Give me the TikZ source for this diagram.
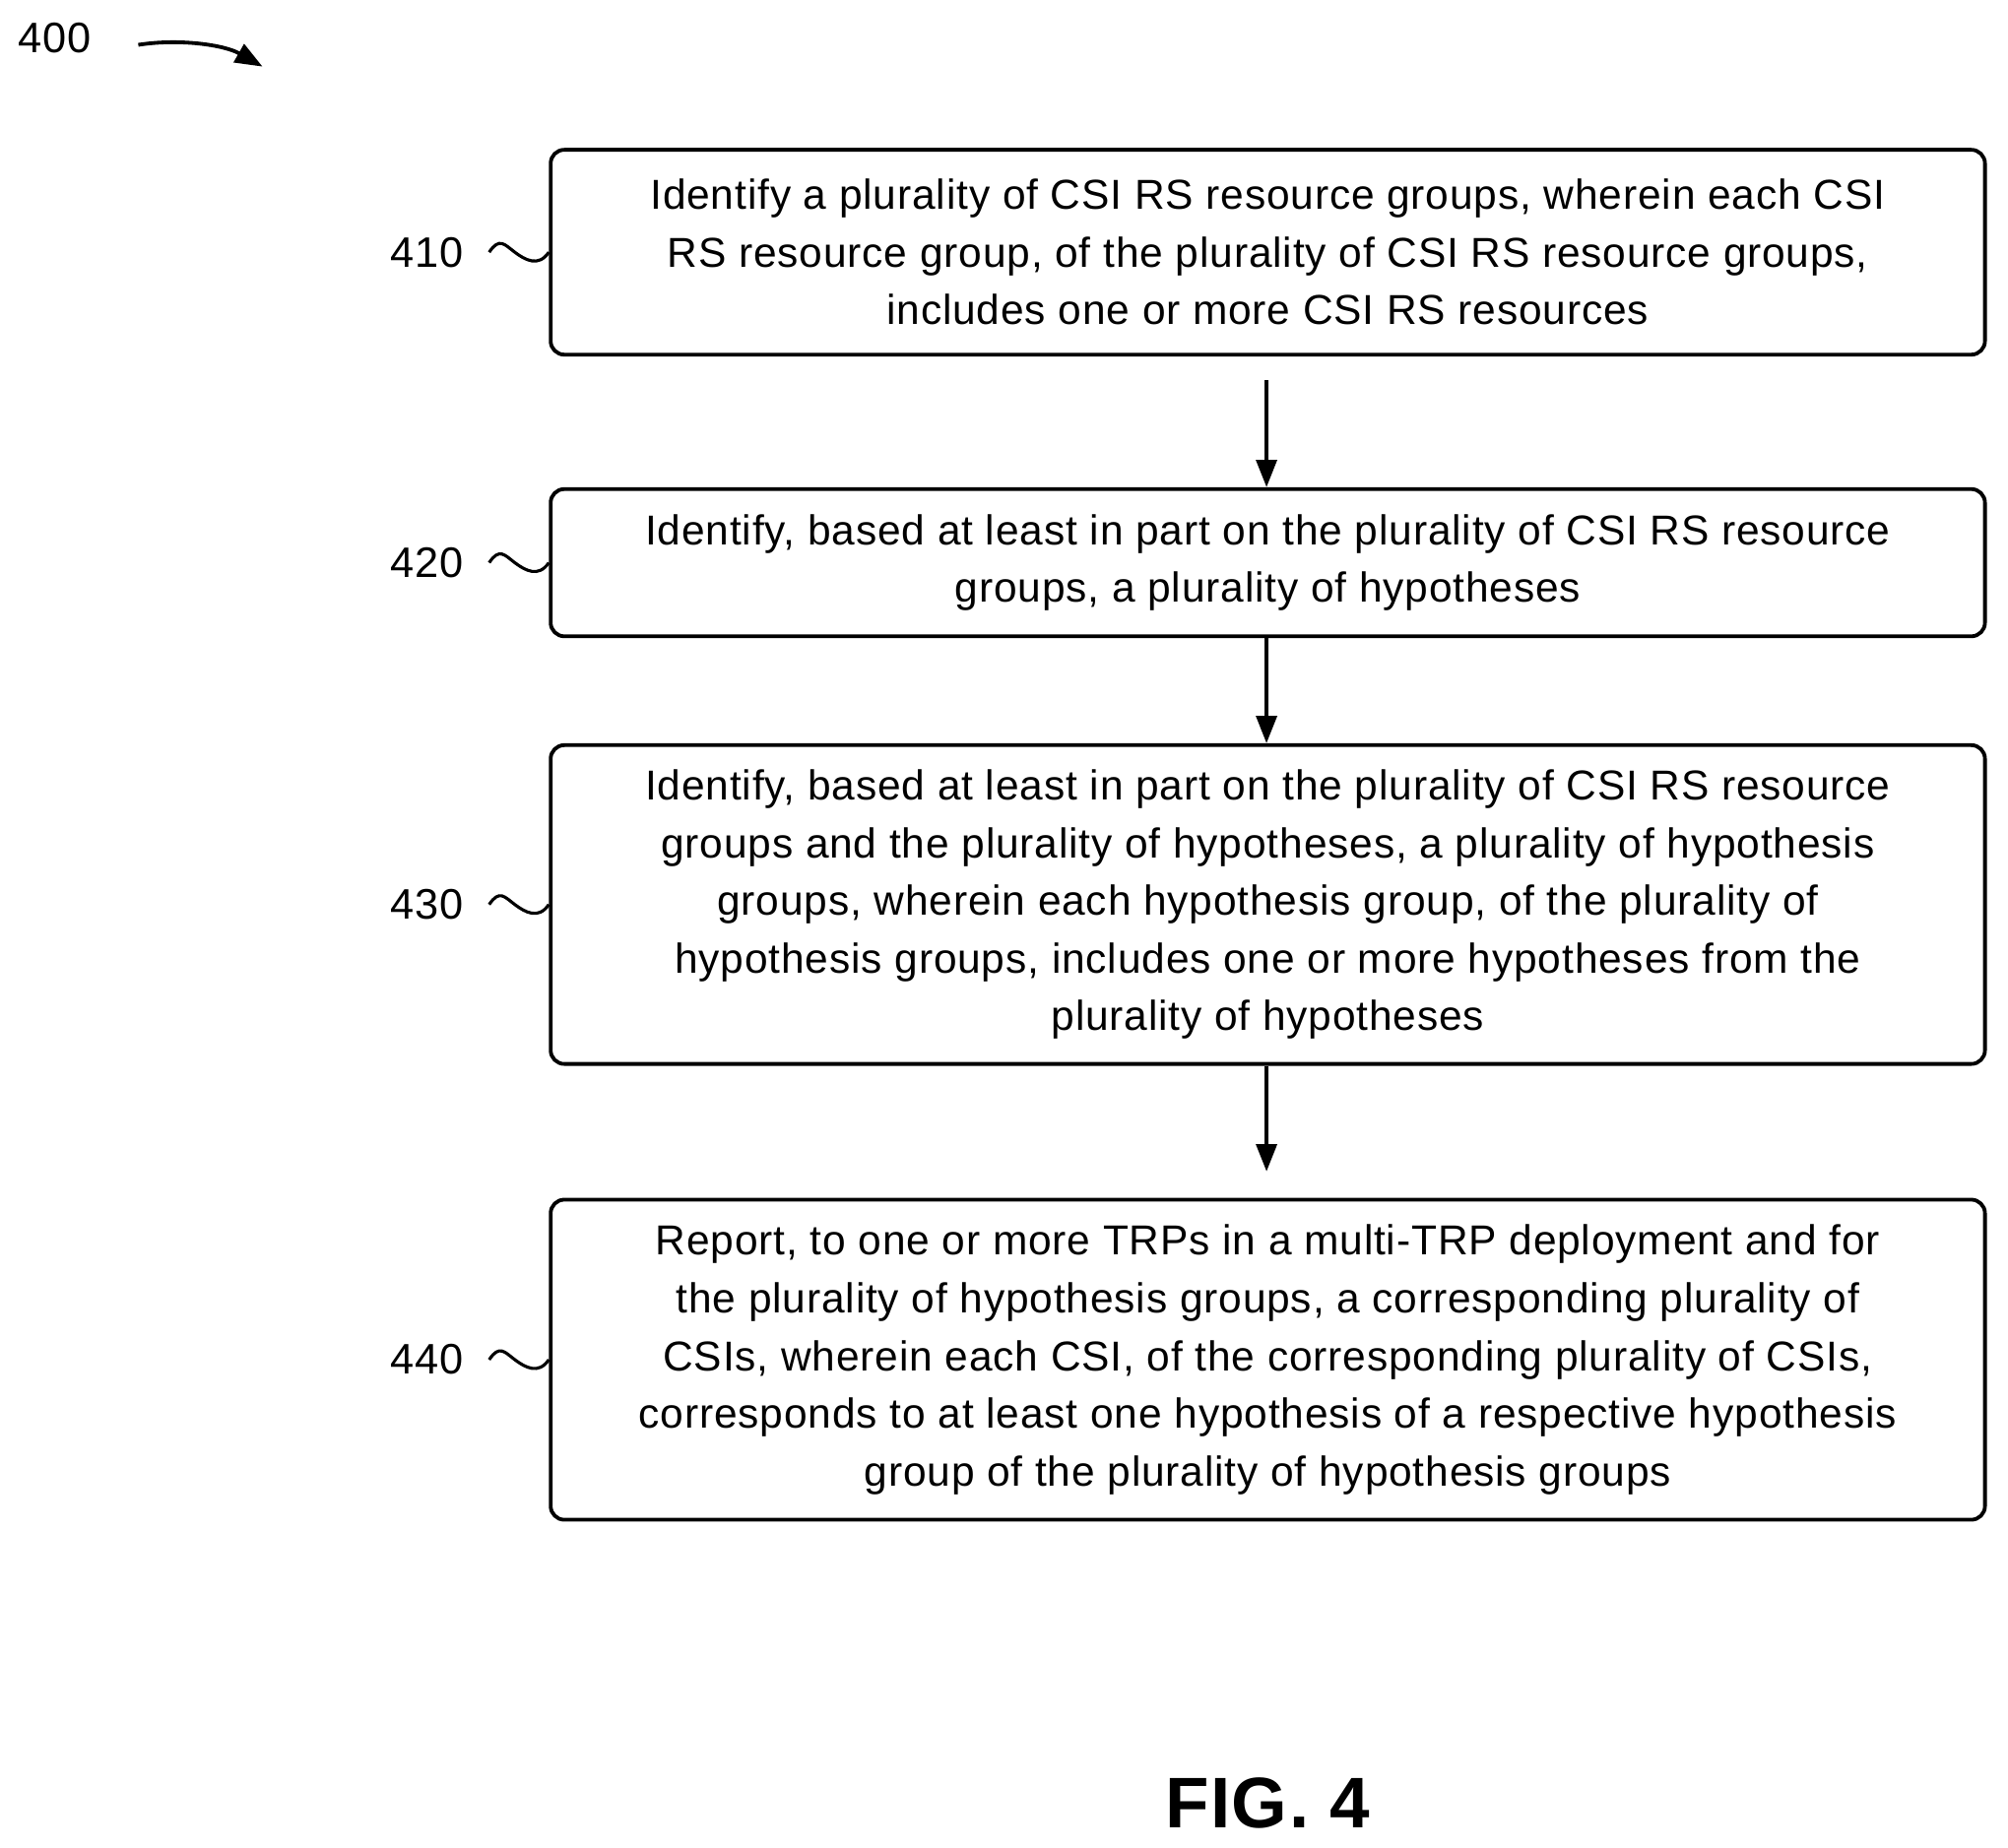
\documentclass[tikz,border=0pt]{standalone}
\usepackage{fontspec}
\setmainfont{Liberation Sans}[LetterSpace=2.0]
\usetikzlibrary{arrows.meta}
\tikzset{
  stepbox/.style={draw, line width=2.2pt, rounded corners=8pt, minimum width=1120*0.75pt, align=center, inner sep=0pt, font=\fontsize{24.5}{33.8}\selectfont},
  steplbl/.style={font=\fontsize{25}{28}\selectfont, inner sep=0pt},
  flow/.style={line width=2.2pt, -{Triangle[length=16pt,width=12pt]}},
  squig/.style={line width=1.8pt}
}
\begin{document}
\begin{tikzpicture}[x=0.75pt,y=0.75pt,yscale=-1,xscale=1]
  \useasboundingbox (0,0) rectangle (1568,1443);
  % Boxes
  \node[stepbox, minimum height=160*0.75pt] (b410) at (990,197) {Identify a plurality of CSI RS resource groups, wherein each CSI\\RS resource group, of the plurality of CSI RS resource groups,\\includes one or more CSI RS resources};
  \node[stepbox, minimum height=115*0.75pt] (b420) at (990,439.5) {Identify, based at least in part on the plurality of CSI RS resource\\groups, a plurality of hypotheses};
  \node[stepbox, minimum height=249*0.75pt] (b430) at (990,706.5) {Identify, based at least in part on the plurality of CSI RS resource\\groups and the plurality of hypotheses, a plurality of hypothesis\\groups, wherein each hypothesis group, of the plurality of\\hypothesis groups, includes one or more hypotheses from the\\plurality of hypotheses};
  \node[stepbox, minimum height=250*0.75pt] (b440) at (990,1062) {Report, to one or more TRPs in a multi-TRP deployment and for\\the plurality of hypothesis groups, a corresponding plurality of\\CSIs, wherein each CSI, of the corresponding plurality of CSIs,\\corresponds to at least one hypothesis of a respective hypothesis\\group of the plurality of hypothesis groups};
  % Arrows
  \coordinate (a0) at (989,297);
  \draw[flow] (a0) -- (b420.north -| a0);
  \draw[flow] (b420.south -| a0) -- (b430.north -| a0);
  \coordinate (a3) at (989,915);
  \draw[flow] (b430.south -| a0) -- (a3);
  % Labels
  \foreach \n in {410,420,430,440}{
    \node[steplbl, anchor=east] (l\n) at (362,0 |- b\n.west) {\n};
    \draw[squig] ([xshift=20*0.75pt]l\n.east) .. controls +(8,-12) and +(-8,-6) .. ++(20,0) .. controls +(8,6) and +(-8,12) .. (b\n.west);
  }
  \node[steplbl, anchor=west] (l400) at (14,30) {400};
  \coordinate (t400) at (205,52);
  \draw[line width=2.2pt, -{Triangle[length=16pt,width=12pt]}] (108,35) .. controls (140,30) and (175,35) .. (t400);
  \node[font=\bfseries\fontsize{42}{46}\selectfont, inner sep=0pt] (fig) at (990,1408) {FIG. 4};
\end{tikzpicture}
\end{document}
